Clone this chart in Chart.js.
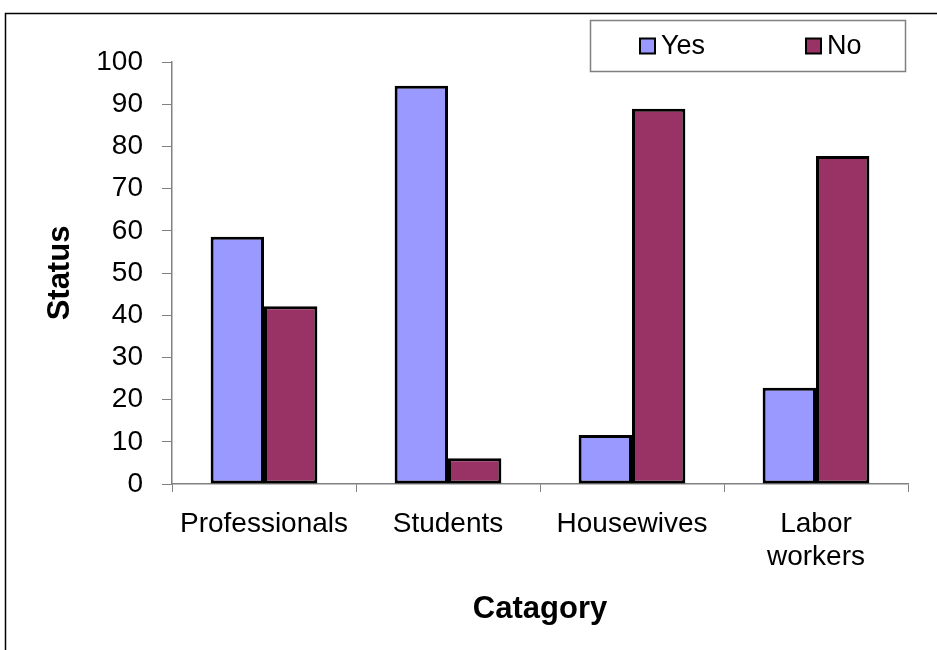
<!DOCTYPE html>
<html>
<head>
<meta charset="utf-8">
<script src="https://cdn.jsdelivr.net/npm/chart.js@4/dist/chart.umd.min.js"></script>
<style>
    html, body { margin: 0; padding: 0; background: #fff; }
    #wrap { width: 937px; height: 650px; position: relative; }
</style>
</head>
<body>
<div id="wrap"><canvas id="statusChart"></canvas></div>
<script>
const categories = ['Professionals', 'Students', 'Housewives', ['Labor', 'workers']];
const yesValues = [58.6, 94.4, 11.6, 22.8];
const noValues = [42.1, 6.1, 88.9, 77.7];
const yTicks = [0, 10, 20, 30, 40, 50, 60, 70, 80, 90, 100];

const FONT = "'Liberation Sans', Arial, sans-serif";
const AXIS_GREY = '#808080';

// frame around the whole chart (only left/top edges are on the page)
const framePlugin = {
    id: 'frame',
    beforeDraw: (chart) => {
        const ctx = chart.ctx;
        ctx.save();
        ctx.strokeStyle = '#000';
        ctx.lineWidth = 1.5;
        ctx.strokeRect(5.5, 13.5, 1200, 1200);
        ctx.restore();
    }
};

// boxed legend in the upper right corner
const boxLegendPlugin = {
    id: 'boxLegend',
    afterDraw: (chart) => {
        const ctx = chart.ctx;
        const box = { x: 590, y: 20, w: 315, h: 51 };
        ctx.save();
        ctx.fillStyle = '#fff';
        ctx.fillRect(box.x, box.y, box.w, box.h);
        ctx.strokeStyle = AXIS_GREY;
        ctx.lineWidth = 1.5;
        ctx.strokeRect(box.x + 0.5, box.y + 0.5, box.w, box.h);

        const itemX = [640, 806];
        ctx.font = '27px ' + FONT;
        ctx.textBaseline = 'middle';
        chart.data.datasets.forEach((ds, i) => {
            const cy = box.y + box.h / 2;
            ctx.fillStyle = ds.backgroundColor;
            ctx.fillRect(itemX[i], cy - 7, 15, 15);
            ctx.strokeStyle = '#000';
            ctx.lineWidth = 2;
            ctx.strokeRect(itemX[i], cy - 7, 15, 15);
            ctx.fillStyle = '#000';
            ctx.fillText(ds.label, itemX[i] + 21, cy + 1);
        });
        ctx.restore();
    }
};

const statusBarChart = () => {
    const ctx = document.getElementById('statusChart').getContext('2d');

    new Chart(ctx, {
        type: 'bar',
        data: {
            labels: categories,
            datasets: [
                {
                    label: 'Yes',
                    data: yesValues,
                    backgroundColor: '#9999FF',
                    borderColor: '#000',
                    borderWidth: 3,
                    borderSkipped: false
                },
                {
                    label: 'No',
                    data: noValues,
                    backgroundColor: '#993366',
                    borderColor: '#000',
                    borderWidth: 3,
                    borderSkipped: false
                }
            ]
        },
        options: {
            responsive: true,
            maintainAspectRatio: false,
            animation: false,
            categoryPercentage: 0.58,
            barPercentage: 1.0,
            layout: {
                padding: { left: 0, right: 29, top: 62, bottom: 0 }
            },
            plugins: {
                legend: { display: false },
                tooltip: { enabled: false }
            },
            scales: {
                x: {
                    afterFit: (scale) => { scale.height = 166; },
                    grid: {
                        offset: true,
                        drawOnChartArea: false,
                        drawTicks: true,
                        tickLength: 8,
                        color: AXIS_GREY
                    },
                    border: { display: true, color: AXIS_GREY, width: 1.5 },
                    ticks: {
                        color: '#000',
                        padding: 15,
                        maxRotation: 0,
                        autoSkip: false,
                        font: { family: FONT, size: 28, lineHeight: 1.2 }
                    },
                    title: {
                        display: true,
                        text: 'Catagory',
                        color: '#000',
                        padding: { top: 0, bottom: 22 },
                        font: { family: FONT, size: 31, weight: 'bold' }
                    }
                },
                y: {
                    min: 0,
                    max: 100,
                    afterFit: (scale) => { scale.width = 172; },
                    afterBuildTicks: (scale) => {
                        scale.ticks = yTicks.map(v => ({ value: v }));
                    },
                    grid: {
                        drawOnChartArea: false,
                        drawTicks: true,
                        tickLength: 10,
                        color: AXIS_GREY
                    },
                    border: { display: true, color: AXIS_GREY, width: 1.5 },
                    ticks: {
                        color: '#000',
                        padding: 19,
                        font: { family: FONT, size: 28 }
                    },
                    title: {
                        display: true,
                        text: 'Status',
                        color: '#000',
                        padding: { top: 42, bottom: 0 },
                        font: { family: FONT, size: 31, weight: 'bold' }
                    }
                }
            }
        },
        plugins: [framePlugin, boxLegendPlugin]
    });
};

statusBarChart();
</script>
</body>
</html>
